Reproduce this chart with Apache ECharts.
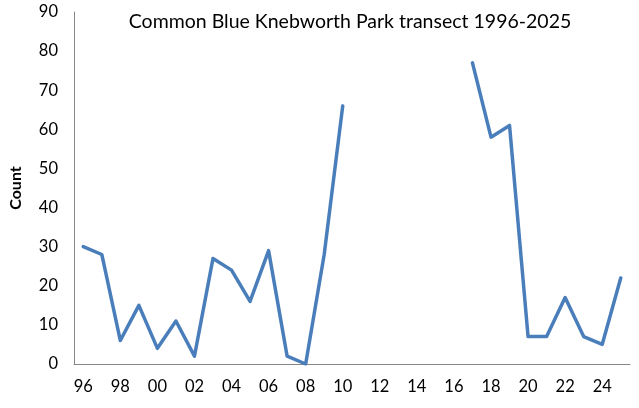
<!DOCTYPE html>
<html>
<head>
<meta charset="utf-8">
<script src="https://cdn.jsdelivr.net/npm/echarts@6/dist/echarts.min.js"></script>
<style>
  html, body { margin: 0; padding: 0; background: #fff; }
  #chart { width: 639px; height: 408px; }
</style>
</head>
<body>
<div id="chart"></div>
<script>
// years 1996-2025, shown as two-digit labels
const years = ['96', '97', '98', '99', '00', '01', '02', '03', '04', '05',
  '06', '07', '08', '09', '10', '11', '12', '13', '14', '15',
  '16', '17', '18', '19', '20', '21', '22', '23', '24', '25']
// no counts for 2011-2016
const counts = [30, 28, 6, 15, 4, 11, 2, 27, 24, 16,
  29, 2, 0, 28, 66, null, null, null, null, null,
  null, 77, 58, 61, 7, 7, 17, 7, 5, 22]

const chart = echarts.init(document.getElementById('chart'))
const font = 'Lato, "Open Sans", sans-serif'

chart.setOption({
  animation: false,
  title: {
    text: 'Common Blue Knebworth Park transect 1996-2025',
    left: 345,
    textAlign: 'center',
    top: 7,
    textStyle: { fontFamily: font, fontSize: 19.5, fontWeight: 'normal', color: '#000' }
  },
  grid: { left: 72, right: 9, top: 12, bottom: 44 },
  xAxis: {
    type: 'category',
    data: years,
    boundaryGap: true,
    axisLine: { lineStyle: { color: '#868686', width: 1 } },
    axisTick: { show: false },
    axisLabel: {
      interval: 1,
      fontFamily: font,
      fontSize: 16.5,
      color: '#000',
      margin: 14
    }
  },
  yAxis: {
    type: 'value',
    min: 0,
    max: 90,
    interval: 10,
    name: 'Count',
    nameLocation: 'middle',
    nameGap: 50,
    nameTextStyle: { fontFamily: font, fontSize: 16, fontWeight: 'bold', color: '#000' },
    axisLine: { show: true, lineStyle: { color: '#868686', width: 1 } },
    axisTick: { show: false },
    splitLine: { show: false },
    axisLabel: { fontFamily: font, fontSize: 16.5, color: '#000', margin: 16 }
  },
  series: [{
    type: 'line',
    data: counts,
    connectNulls: false,
    symbol: 'none',
    lineStyle: { color: '#4a7ebb', width: 3.5, join: 'round', cap: 'round' }
  }]
})
</script>
</body>
</html>
